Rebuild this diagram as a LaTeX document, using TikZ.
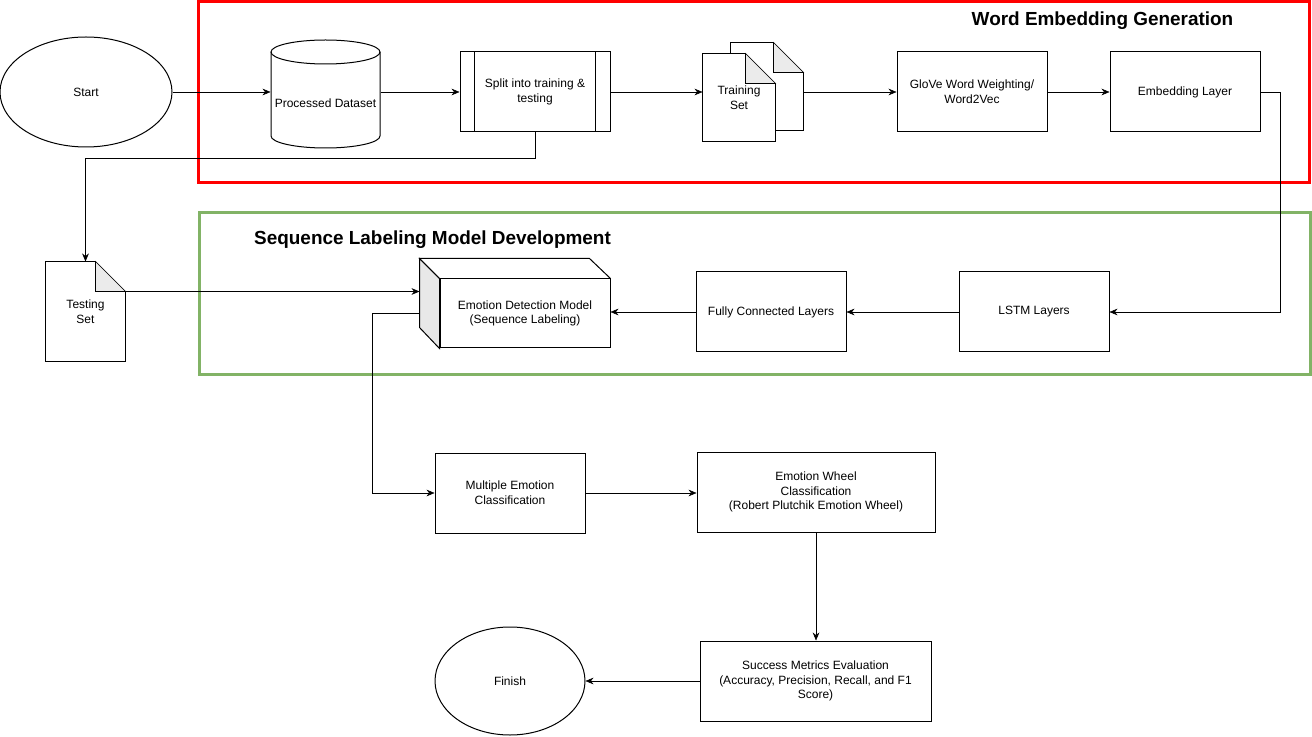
\documentclass[tikz,border=0pt]{standalone}
\usepackage{fontspec}
\setmainfont{Liberation Sans}
\usepackage{tikz}
\usetikzlibrary{arrows.meta, positioning, shapes.geometric, calc, backgrounds}
\definecolor{grpred}{RGB}{255,0,0}
\definecolor{grpgreen}{RGB}{130,179,102}
\definecolor{foldgray}{RGB}{235,235,235}
\definecolor{cubegray}{RGB}{232,232,232}

\begin{document}
\begin{tikzpicture}[x=0.75pt, y=-0.75pt, >={Stealth[length=6pt, width=5pt]},
      line width=0.75pt, font=\fontsize{9}{11}\selectfont,
      blk/.style={draw, minimum width=112.5pt, minimum height=60pt,
                  align=center, inner sep=2pt, fill=white},
      term/.style={draw, ellipse, align=center, inner sep=0pt},
      doc/.style={minimum width=54pt, minimum height=65.25pt,
                  align=center, inner sep=0pt},
      grp/.style={line width=2.25pt},
      ttl/.style={font=\fontsize{14.2}{17}\selectfont\bfseries}]

    \useasboundingbox (0,0) rectangle (1312,737);

    % group frames
    \draw[grp, draw=grpred] (198,2) rectangle (1309,183);
    \node[ttl] (wegtitle) at (1102.5,21) {Word Embedding Generation};
    \draw[grp, draw=grpgreen] (199,213) rectangle (1310,375);
    \node[ttl] (slmtitle) at (432.5,240) {Sequence Labeling Model Development};

    % first row
    \node[term, minimum width=129pt, minimum height=82.5pt] (start) at (86,92) {Start};
    \node[minimum width=81.75pt, inner sep=0pt] (data) at (325.5,103) {Processed Dataset};
    \draw (325.5,52) ellipse [x radius=54.5, y radius=12];
    \draw (271,52) -- (271,136) arc[start angle=180, end angle=0, x radius=54.5, y radius=12] -- (380,52);

    \node[blk] (split) at (535,92) {Split into training \&\\testing};
    \draw ([xshift=11.25pt]split.north west) -- ([xshift=11.25pt]split.south west);
    \draw ([xshift=-11.25pt]split.north east) -- ([xshift=-11.25pt]split.south east);

    \node[doc] (trnb) at (767,86.5) {};
    \node[doc] (trn) at (739,97.5) {Training\\Set};
    \node[blk] (glove) at (972,92) {GloVe Word Weighting/\\Word2Vec};
    \node[blk, right=46.5pt of glove] (embed) {Embedding Layer};

    % second row
    \node[doc, minimum width=59.25pt, minimum height=74.25pt] (tst) at (85.5,311.5) {Testing\\Set};
    \node[draw, fill=white, minimum width=127.5pt, minimum height=51.75pt, align=center] (edm)
         at (525,313.5) {Emotion Detection Model\\(Sequence Labeling)};
    \draw[fill=cubegray] (edm.north west) -- ++(-20,-20) -- ++(0,69) -- (edm.south west) -- cycle;
    \draw (edm.north west) -- ++(-20,-20) -- ++(170,0) -- (edm.north east);
    \coordinate (edmback) at ([xshift=-15pt]edm.west);
    \node[blk] (lstm) at (1034,312) {LSTM Layers};
    \node[blk, left=84pt of lstm] (fc) {Fully Connected Layers};

    % lower part
    \node[blk] (mec) at (510,493) {Multiple Emotion\\Classification};
    \node[blk, minimum width=178.5pt] (wheel) at (816,492)
         {Emotion Wheel\\Classification\\(Robert Plutchik Emotion Wheel)};
    \node[blk, minimum width=173.25pt] (metrics) at (815.5,681)
         {Success Metrics Evaluation\\(Accuracy, Precision, Recall, and F1\\Score)};
    \node[term, minimum width=112.5pt, minimum height=81pt] (finish) at (510,681) {Finish};

    % document outlines
    \begin{pgfonlayer}{background}
      \foreach \d in {trnb, trn, tst} {
        \draw[fill=white] (\d.south west) -- (\d.north west) -- ([xshift=-22.5pt]\d.north east)
              -- ([yshift=-22.5pt]\d.north east) -- (\d.south east) -- cycle;
        \draw[fill=foldgray] ([xshift=-22.5pt]\d.north east) -- ([xshift=-22.5pt, yshift=-22.5pt]\d.north east)
              -- ([yshift=-22.5pt]\d.north east) -- cycle;
      }
    \end{pgfonlayer}
    \coordinate (tstfold) at ([yshift=-22.5pt]tst.north east);

    % connectors
    \draw[->] (start) -- (start -| data.west);
    \draw[->] (data.east |- split) -- (split.west);
    \draw[->] (split) -- (split -| trn.west);
    \draw[->] (trnb.east |- glove) -- (glove.west);
    \draw[->] (glove) -- (embed);
    \draw[->] (embed.east) -- ++(20,0) |- (lstm.east);
    \draw[->] (lstm) -- (fc);
    \draw[->] (fc) -- (fc -| edm.east);
    \draw[->] (split.south) -- ++(0,26) -| (tst.north);
    \draw[->] (tstfold) -- (tstfold -| edmback);
    \draw[->] (edmback) -- ++(-47,0) |- (mec.west);
    \draw[->] (mec) -- (mec -| wheel.west);
    \draw[->] (wheel) -- (wheel |- metrics.north);
    \draw[->] (metrics) -- (finish);
  \end{tikzpicture}
\end{document}
